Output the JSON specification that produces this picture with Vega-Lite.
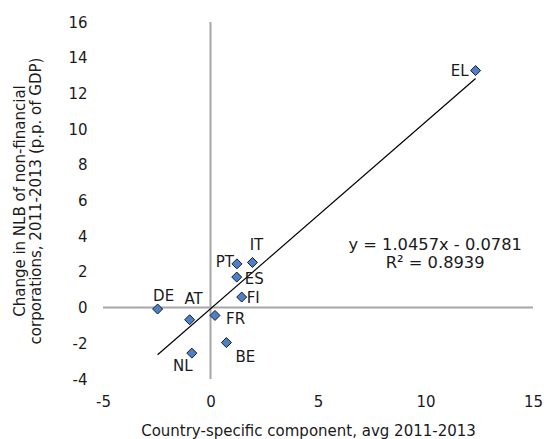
{
  "$schema": "https://vega.github.io/schema/vega-lite/v6.json",
  "autosize": "none",
  "width": 430,
  "height": 357,
  "padding": {"left": 103, "top": 22, "right": 11, "bottom": 60},
  "background": "white",
  "config": {
    "view": {"stroke": null},
    "font": "DejaVu Sans",
    "text": {"font": "DejaVu Sans", "color": "#1a1a1a"},
    "axis": {
      "grid": false, "domain": false, "ticks": false, "tickSize": 0,
      "labelFontSize": 15, "titleFontSize": 15, "labelColor": "#1a1a1a", "titleColor": "#1a1a1a",
      "titleFontWeight": "normal", "labelFlush": false, "labelOverlap": false
    }
  },
  "datasets": {
    "pts": [
      {"c": "EL", "x": 12.33, "y": 13.28},
      {"c": "DE", "x": -2.46, "y": -0.08},
      {"c": "AT", "x": -0.97, "y": -0.68},
      {"c": "NL", "x": -0.87, "y": -2.55},
      {"c": "FR", "x": 0.21, "y": -0.44},
      {"c": "BE", "x": 0.74, "y": -1.96},
      {"c": "PT", "x": 1.23, "y": 2.45},
      {"c": "IT", "x": 1.95, "y": 2.53},
      {"c": "ES", "x": 1.22, "y": 1.71},
      {"c": "FI", "x": 1.45, "y": 0.59}
    ],
    "zero": [{"z": 0}]
  },
  "layer": [
    {
      "data": {"name": "zero"},
      "mark": {"type": "rule", "color": "#a6a6a6", "strokeWidth": 2},
      "encoding": {
        "x": {"field": "z", "type": "quantitative", "scale": {"domain": [-5, 15], "nice": false, "zero": false}, "title": "Country-specific component, avg 2011-2013",
          "axis": {"values": [-5, 0, 5, 10, 15], "labelExpr": "'' + datum.value", "labelOverlap": false, "labelPadding": 15, "titlePadding": 14, "titleX": 205}}
      }
    },
    {
      "data": {"name": "zero"},
      "mark": {"type": "rule", "color": "#a6a6a6", "strokeWidth": 2},
      "encoding": {
        "y": {"field": "z", "type": "quantitative", "scale": {"domain": [-4, 16], "nice": false, "zero": false}, "title": ["Change in NLB of non-financial", "corporations, 2011-2013 (p.p. of GDP)"],
          "axis": {"values": [-4, -2, 0, 2, 4, 6, 8, 10, 12, 14, 16], "tickCount": 11, "labelExpr": "'' + datum.value", "labelOverlap": false, "labelPadding": 16, "titlePadding": 24, "titleLineHeight": 16}}
      }
    },
    {
      "data": {"name": "pts"},
      "encoding": {
        "x": {"field": "x", "type": "quantitative", "scale": {"domain": [-5, 15], "nice": false, "zero": false}, "title": "Country-specific component, avg 2011-2013",
          "axis": {"values": [-5, 0, 5, 10, 15], "labelExpr": "'' + datum.value", "labelOverlap": false, "labelPadding": 15, "titlePadding": 14, "titleX": 205}},
        "y": {"field": "y", "type": "quantitative", "scale": {"domain": [-4, 16], "nice": false, "zero": false}, "title": ["Change in NLB of non-financial", "corporations, 2011-2013 (p.p. of GDP)"],
          "axis": {"values": [-4, -2, 0, 2, 4, 6, 8, 10, 12, 14, 16], "tickCount": 11, "labelExpr": "'' + datum.value", "labelOverlap": false, "labelPadding": 16, "titlePadding": 24, "titleLineHeight": 16}}
      },
      "layer": [
        {
          "transform": [{"regression": "y", "on": "x"}],
          "mark": {"type": "line", "color": "#000000", "strokeWidth": 1.2}
        },
        {"mark": {"type": "point", "shape": "diamond", "filled": true, "size": 100, "fill": "#4a80cc", "stroke": "#1a1a1a", "strokeWidth": 1, "opacity": 1}},
        {"transform": [{"filter": "datum.c == 'EL'"}], "mark": {"type": "text", "fontSize": 15, "align": "right", "baseline": "middle", "dx": -7, "dy": 0}, "encoding": {"text": {"field": "c"}}},
        {"transform": [{"filter": "datum.c == 'DE'"}], "mark": {"type": "text", "fontSize": 15, "align": "center", "baseline": "middle", "dx": 6, "dy": -13}, "encoding": {"text": {"field": "c"}}},
        {"transform": [{"filter": "datum.c == 'AT'"}], "mark": {"type": "text", "fontSize": 15, "align": "center", "baseline": "middle", "dx": 4, "dy": -21}, "encoding": {"text": {"field": "c"}}},
        {"transform": [{"filter": "datum.c == 'NL'"}], "mark": {"type": "text", "fontSize": 15, "align": "center", "baseline": "middle", "dx": -9, "dy": 13}, "encoding": {"text": {"field": "c"}}},
        {"transform": [{"filter": "datum.c == 'FR'"}], "mark": {"type": "text", "fontSize": 15, "align": "left", "baseline": "middle", "dx": 11, "dy": 4}, "encoding": {"text": {"field": "c"}}},
        {"transform": [{"filter": "datum.c == 'BE'"}], "mark": {"type": "text", "fontSize": 15, "align": "left", "baseline": "middle", "dx": 9, "dy": 14}, "encoding": {"text": {"field": "c"}}},
        {"transform": [{"filter": "datum.c == 'PT'"}], "mark": {"type": "text", "fontSize": 15, "align": "right", "baseline": "middle", "dx": -3, "dy": -2}, "encoding": {"text": {"field": "c"}}},
        {"transform": [{"filter": "datum.c == 'IT'"}], "mark": {"type": "text", "fontSize": 15, "align": "center", "baseline": "middle", "dx": 4, "dy": -17}, "encoding": {"text": {"field": "c"}}},
        {"transform": [{"filter": "datum.c == 'ES'"}], "mark": {"type": "text", "fontSize": 15, "align": "left", "baseline": "middle", "dx": 8, "dy": 2}, "encoding": {"text": {"field": "c"}}},
        {"transform": [{"filter": "datum.c == 'FI'"}], "mark": {"type": "text", "fontSize": 15, "align": "left", "baseline": "middle", "dx": 5, "dy": 1}, "encoding": {"text": {"field": "c"}}}
      ]
    },
    {
      "data": {"values": [{}]},
      "mark": {"type": "text", "fontSize": 16.3, "align": "center", "baseline": "middle", "lineHeight": 18, "text": ["y = 1.0457x - 0.0781", "R² = 0.8939"]},
      "encoding": {
        "x": {"datum": 10.45, "type": "quantitative", "scale": {"domain": [-5, 15], "nice": false, "zero": false}, "title": "Country-specific component, avg 2011-2013",
          "axis": {"values": [-5, 0, 5, 10, 15], "labelExpr": "'' + datum.value", "labelOverlap": false, "labelPadding": 15, "titlePadding": 14, "titleX": 205}},
        "y": {"datum": 3.52, "type": "quantitative", "scale": {"domain": [-4, 16], "nice": false, "zero": false}, "title": ["Change in NLB of non-financial", "corporations, 2011-2013 (p.p. of GDP)"],
          "axis": {"values": [-4, -2, 0, 2, 4, 6, 8, 10, 12, 14, 16], "tickCount": 11, "labelExpr": "'' + datum.value", "labelOverlap": false, "labelPadding": 16, "titlePadding": 24, "titleLineHeight": 16}}
      }
    }
  ]
}
